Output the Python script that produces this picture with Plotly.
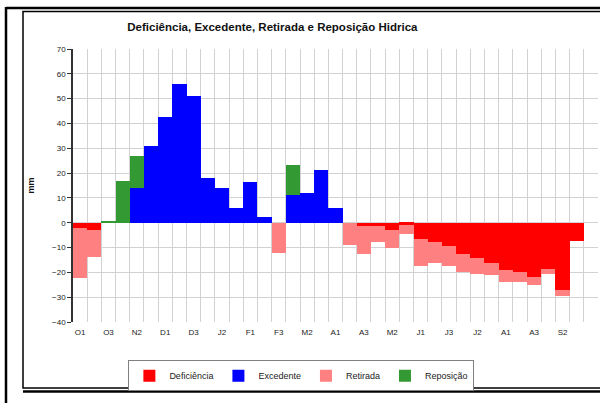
import plotly.graph_objects as go

# Dekads (ten-day periods) from October to September
dekads = ["O1", "O2", "O3", "N1", "N2", "N3", "D1", "D2", "D3", "J1", "J2", "J3",
          "F1", "F2", "F3", "M1", "M2", "M3", "A1", "A2", "A3", "M1", "M2", "M3",
          "J1", "J2", "J3", "J1", "J2", "J3", "A1", "A2", "A3", "S1", "S2", "S3"]

# mm per dekad (negative = water loss, as drawn)
deficiencia = [-2.0, -3.0, 0, 0, 0, 0, 0, 0, 0, 0, 0, 0,
               0, 0, 0, 0, 0, 0, 0, 0, -1.3, -1.3, -2.8, -0.8,
               -6.7, -7.7, -9.5, -12.6, -14.2, -16.1, -18.9, -19.7, -22.0, -18.5, -27.2, -7.5]
excedente = [0, 0, 0, 0, 14.1, 31.1, 42.5, 56.0, 51.0, 18.2, 14.1, 5.8,
             16.4, 2.3, 0, 11.1, 12.1, 21.1, 5.9, 0, 0, 0, 0, 0,
             0, 0, 0, 0, 0, 0, 0, 0, 0, 0, 0, 0]
retirada = [-20.1, -10.7, 0, 0, 0, 0, 0, 0, 0, 0, 0, 0,
            0, 0, -12.1, 0, 0, 0, 0, -9.1, -11.5, -6.5, -7.3, -3.8,
            -10.8, -8.4, -7.8, -7.1, -6.4, -5.1, -4.9, -4.1, -3.2, -2.3, -2.3, 0]
reposicao = [0, 0, 0.7, 17.0, 12.7, 0, 0, 0, 0, 0, 0, 0,
             0, 0, 0, 12.1, 0, 0, 0, 0, 0, 0, 0, 0,
             0, 0, 0, 0, 0, 0, 0, 0, 0, 0, 0, 0]
y_ticks = [-40, -30, -20, -10, 0, 10, 20, 30, 40, 50, 60, 70]

x = list(range(len(dekads)))
x_range = [-0.5, len(dekads) + 0.5]   # one empty slot at the right, as in the original
y_range = [y_ticks[0], y_ticks[-1]]

FONT = "Arial, Liberation Sans, sans-serif"

fig = go.Figure()
series = [("Deficiência", deficiencia, "#FF0000"),
          ("Excedente", excedente, "#0000FF"),
          ("Retirada", retirada, "#FF8080"),
          ("Reposição", reposicao, "#339933")]
for name, vals, color in series:
    fig.add_trace(go.Bar(x=x, y=vals, name=name,
                         marker=dict(color=color, line=dict(width=0))))

zero_pos = (0 - y_range[0]) / (y_range[1] - y_range[0])

fig.update_layout(
    width=600, height=403,
    margin=dict(l=73, r=2, t=49, b=81),
    paper_bgcolor="white", plot_bgcolor="white",
    barmode="relative", bargap=0,
    font=dict(family=FONT, color="#222"),
    title=dict(text="<b>Deficiência, Excedente, Retirada e Reposição Hidrica</b>",
               font=dict(size=11.5, color="#111"), xref="container", x=0.454,
               xanchor="center", yref="container", y=0.933, yanchor="middle"),
    xaxis=dict(range=x_range, tickmode="array", tickvals=x[::2], ticktext=dekads[::2],
               ticks="", showgrid=False, showline=False, zeroline=False,
               ticklabelstandoff=4, automargin=False,
               tickfont=dict(size=8, color="#222"),
               minor=dict(tickmode="linear", tick0=-0.5, dtick=1, showgrid=True,
                          gridcolor="#d2d2d2", gridwidth=1, ticks="")),
    xaxis2=dict(overlaying="x", anchor="free", position=zero_pos, side="bottom",
                range=x_range, tickmode="linear", tick0=-0.5, dtick=1,
                ticks="outside", ticklen=4, tickcolor="#111", tickwidth=1,
                showticklabels=False, showline=True, linecolor="#111", linewidth=1,
                showgrid=False, zeroline=False, automargin=False),
    yaxis=dict(range=y_range, tickmode="array", tickvals=y_ticks,
               ticks="outside", ticklen=4, tickcolor="#333", automargin=False,
               showline=True, linecolor="#333", linewidth=1.5,
               showgrid=True, gridcolor="#d2d2d2", gridwidth=1,
               zeroline=False, tickfont=dict(size=8, color="#222"),
               title=dict(text="<b>mm</b>", font=dict(size=9, color="#111"), standoff=16)),
    legend=dict(orientation="h", x=0.435, xanchor="center", y=-0.14, yanchor="top",
                bordercolor="#808080", borderwidth=1, bgcolor="white",
                font=dict(size=9, color="#222"), itemwidth=30, traceorder="normal"),
    showlegend=True,
)

# Outer frame and chart-area border (paper coordinates)
def px_x(v):
    return (v - 73) / 525.0

def px_y(v):
    return (322 - v) / 273.0

frame = [
    dict(type="line", x0=px_x(6), x1=px_x(6), y0=px_y(7), y1=px_y(403), width=2.5),
    dict(type="line", x0=px_x(6), x1=px_x(600), y0=px_y(8), y1=px_y(8), width=2.5),
    dict(type="rect", x0=px_x(23), x1=px_x(605), y0=px_y(11.5), y1=px_y(388), width=1.5),
    dict(type="line", x0=px_x(23), x1=px_x(600), y0=px_y(391.5), y1=px_y(391.5), width=2.5),
]
for s in frame:
    w = s.pop("width")
    fig.add_shape(**s, xref="paper", yref="paper", line=dict(color="black", width=w),
                  layer="above")

fig.write_html("out.html", config={"displayModeBar": False},
               post_script="document.body.style.margin='0';")
